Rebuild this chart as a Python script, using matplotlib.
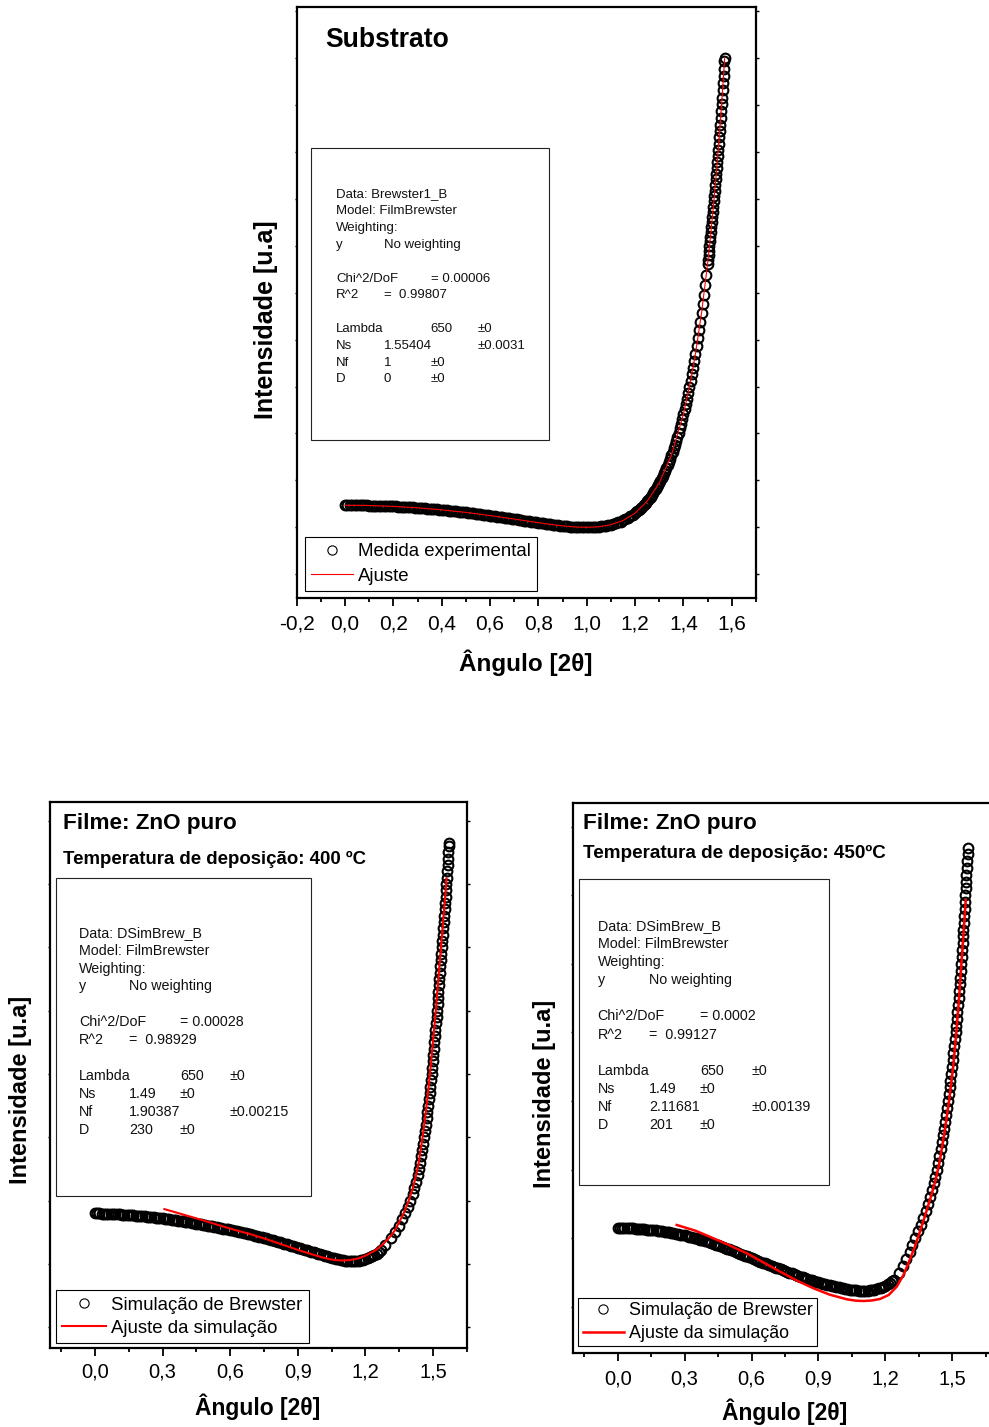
import matplotlib
matplotlib.use("Agg")
import matplotlib.pyplot as plt
from matplotlib.patches import Rectangle
from matplotlib.ticker import MultipleLocator, FuncFormatter, NullFormatter

plt.rcParams['font.family'] = ['Liberation Sans', 'DejaVu Sans']

W, H = 989, 1427

# ---------------------------------------------------------------- data
# incidence angle (rad) of the low-angle part, shared by the three curves
angle_flat = [
    0.00, 0.01, 0.02, 0.03, 0.04, 0.05, 0.06, 0.07, 0.08, 0.09,
    0.10, 0.11, 0.12, 0.13, 0.14, 0.15, 0.16, 0.17, 0.18, 0.19,
    0.20, 0.21, 0.22, 0.23, 0.24, 0.25, 0.26, 0.27, 0.28, 0.29,
    0.30, 0.31, 0.32, 0.33, 0.34, 0.35, 0.36, 0.37, 0.38, 0.39,
    0.40, 0.41, 0.42, 0.43, 0.44, 0.45, 0.46, 0.47, 0.48, 0.49,
    0.50, 0.51, 0.52, 0.53, 0.54, 0.55, 0.56, 0.57, 0.58, 0.59,
    0.60, 0.61, 0.62, 0.63, 0.64, 0.65, 0.66, 0.67, 0.68, 0.69,
    0.70, 0.71, 0.72, 0.73, 0.74, 0.75, 0.76, 0.77, 0.78, 0.79,
    0.80, 0.81, 0.82, 0.83, 0.84, 0.85, 0.86, 0.87, 0.88, 0.89,
    0.90, 0.91, 0.92, 0.93, 0.94, 0.95, 0.96, 0.97, 0.98, 0.99,
    1.00, 1.01, 1.02, 1.03, 1.04, 1.05, 1.06, 1.07, 1.08, 1.09,
    1.10, 1.11, 1.12, 1.13, 1.14, 1.15, 1.16, 1.17, 1.18, 1.19,
    1.20, 1.21, 1.22, 1.23, 1.24, 1.25, 1.26, 1.27]

# Substrato: measured intensity
sub_flat = [
    .0471, .0470, .0470, .0470, .0469, .0469, .0468, .0468, .0467, .0466,
    .0465, .0463, .0462, .0460, .0458, .0457, .0455, .0453, .0451, .0449,
    .0446, .0444, .0441, .0438, .0435, .0433, .0430, .0426, .0423, .0419,
    .0416, .0412, .0408, .0404, .0400, .0396, .0391, .0387, .0382, .0378,
    .0373, .0367, .0362, .0357, .0352, .0347, .0341, .0336, .0330, .0324,
    .0318, .0311, .0305, .0298, .0292, .0286, .0279, .0272, .0265, .0258,
    .0251, .0244, .0237, .0229, .0222, .0215, .0207, .0199, .0192, .0184,
    .0176, .0168, .0160, .0153, .0145, .0137, .0129, .0122, .0114, .0106,
    .0099, .0091, .0084, .0077, .0069, .0062, .0056, .0050, .0044, .0037,
    .0031, .0026, .0021, .0017, .0013, .0009, .0006, .0003, .0001, .0000,
    .0000, .0000, .0002, .0004, .0008, .0012, .0018, .0025, .0034, .0044,
    .0056, .0070, .0085, .0103, .0124, .0146, .0172, .0200, .0231, .0265,
    .0302]
sub_steep_angle = [
    1.205, 1.210, 1.215, 1.220, 1.225, 1.230, 1.235, 1.240, 1.245, 1.250,
    1.255, 1.260, 1.265, 1.270, 1.275, 1.280, 1.285, 1.290, 1.295, 1.300,
    1.305, 1.310, 1.315, 1.320, 1.325, 1.330, 1.335, 1.340, 1.345, 1.350,
    1.355, 1.360, 1.365, 1.370, 1.375, 1.380, 1.385, 1.390, 1.395, 1.400,
    1.405, 1.410, 1.415, 1.420, 1.425, 1.430, 1.435, 1.440, 1.445, 1.450,
    1.455, 1.460, 1.465, 1.470, 1.475, 1.480, 1.485, 1.490, 1.495, 1.500,
    1.502, 1.504, 1.506, 1.508, 1.510, 1.512, 1.514, 1.516, 1.518, 1.520,
    1.522, 1.524, 1.526, 1.528, 1.530, 1.532, 1.534, 1.536, 1.538, 1.540,
    1.542, 1.544, 1.546, 1.548, 1.550, 1.552, 1.554, 1.556, 1.558, 1.560,
    1.562, 1.564, 1.566, 1.568, 1.570, 1.5708]
sub_steep = [
    .0323, .0344, .0366, .0390, .0414, .0440, .0467, .0495, .0524, .0555,
    .0586, .0620, .0655, .0691, .0729, .0769, .0810, .0853, .0898, .0945,
    .0993, .1044, .1097, .1152, .1209, .1269, .1331, .1396, .1463, .1533,
    .1606, .1682, .1760, .1842, .1928, .2017, .2109, .2205, .2305, .2409,
    .2516, .2629, .2745, .2867, .2993, .3124, .3260, .3402, .3549, .3703,
    .3862, .4028, .4200, .4379, .4565, .4759, .4960, .5169, .5387, .5614,
    .5707, .5801, .5897, .5995, .6094, .6195, .6297, .6401, .6507, .6614,
    .6723, .6834, .6946, .7060, .7177, .7295, .7414, .7536, .7660, .7786,
    .7914, .8043, .8175, .8309, .8446, .8584, .8725, .8868, .9013, .9161,
    .9311, .9463, .9618, .9776, .9936, 1.0000]
# Substrato: fitted curve
sub_fit_angle = [0.0, 0.1, 0.2, 0.3, 0.4, 0.5, 0.6, 0.7, 0.8, 0.85, 0.9, 0.95,
                 1.0, 1.05, 1.1, 1.15, 1.2, 1.25, 1.3, 1.35, 1.4, 1.425, 1.45,
                 1.475, 1.5, 1.51, 1.52, 1.53, 1.54, 1.55, 1.56, 1.57, 1.5708]
sub_fit = [.0471, .0465, .0446, .0416, .0373, .0318, .0251, .0176, .0099, .0062,
           .0031, .0009, .0000, .0012, .0056, .0146, .0302, .0555, .0945, .1533,
           .2409, .2993, .3703, .4565, .5614, .6094, .6614, .7177, .7786, .8446,
           .9161, .9936, 1.0]

# ZnO 400 C: simulated intensity
zno400_flat = [
    .1796, .1796, .1795, .1794, .1793, .1791, .1790, .1788, .1786, .1784,
    .1782, .1780, .1778, .1776, .1773, .1771, .1768, .1765, .1763, .1760,
    .1757, .1753, .1750, .1746, .1742, .1738, .1734, .1730, .1726, .1721,
    .1717, .1712, .1707, .1702, .1697, .1692, .1687, .1681, .1676, .1670,
    .1665, .1659, .1653, .1648, .1642, .1636, .1630, .1624, .1617, .1611,
    .1605, .1598, .1591, .1585, .1578, .1571, .1564, .1557, .1549, .1542,
    .1535, .1527, .1520, .1512, .1505, .1497, .1489, .1481, .1472, .1464,
    .1456, .1447, .1438, .1429, .1420, .1411, .1401, .1391, .1382, .1372,
    .1362, .1352, .1341, .1331, .1320, .1310, .1299, .1288, .1278, .1267,
    .1256, .1245, .1234, .1224, .1213, .1202, .1191, .1180, .1170, .1159,
    .1148, .1138, .1127, .1117, .1106, .1096, .1087, .1078, .1069, .1062,
    .1055, .1050, .1046, .1043, .1042, .1043, .1046, .1051, .1058, .1066,
    .1075, .1088, .1103, .1120, .1139, .1160, .1185, .1213]
zno400_steep = [
    .13, .14, .15, .16, .17, .18, .19, .20, .21, .22,
    .23, .24, .25, .26, .27, .28, .29, .30, .31, .32,
    .33, .34, .35, .36, .37, .38, .39, .40, .41, .42,
    .43, .44, .45, .46, .47, .48, .49, .50, .51, .52,
    .53, .54, .55, .56, .57, .58, .59, .60, .61, .62,
    .63, .64, .65, .66, .67, .68, .69, .70, .71, .72,
    .73, .74, .75, .76, .765]
zno400_steep_angle = [
    1.2885, 1.3134, 1.3329, 1.3491, 1.3631, 1.3765, 1.3884, 1.3995, 1.4092, 1.4177,
    1.4257, 1.4319, 1.4376, 1.4434, 1.4479, 1.4523, 1.4567, 1.4607, 1.4647, 1.4683,
    1.4718, 1.4749, 1.4785, 1.4816, 1.4847, 1.4878, 1.4909, 1.4936, 1.4962, 1.4989,
    1.5011, 1.5038, 1.5060, 1.5087, 1.5109, 1.5135, 1.5158, 1.5180, 1.5202, 1.5224,
    1.5242, 1.5260, 1.5282, 1.5308, 1.5330, 1.5348, 1.5371, 1.5388, 1.5411, 1.5433,
    1.5450, 1.5473, 1.5495, 1.5517, 1.5535, 1.5557, 1.5575, 1.5593, 1.5610, 1.5628,
    1.5646, 1.5664, 1.5683, 1.5700, 1.5708]
zno400_fit_angle = [0.308, 0.38, 0.466, 0.55, 0.62, 0.688, 0.76, 0.836, 0.91, 0.984,
                    1.02, 1.058, 1.095, 1.132, 1.17, 1.206, 1.245, 1.28, 1.31, 1.3316,
                    1.3703, 1.3925, 1.4107, 1.4249, 1.4364, 1.4453, 1.4537, 1.4648,
                    1.4746, 1.4866, 1.4995, 1.5125, 1.5237, 1.5353, 1.5470, 1.5583, 1.5600]
zno400_fit = [.1864, .1790, .1701, .1610, .1535, .1470, .1390, .1298, .1208, .1127,
              .1090, .1062, .1052, .1060, .1086, .1137, .1215, .1315, .1430, .1532,
              .18, .20, .22, .24, .26, .28, .30, .33, .36, .40, .45, .50, .55, .60,
              .65, .70, .7088]

# ZnO 450 C: simulated intensity
zno450_flat = [
    .1152, .1152, .1151, .1150, .1149, .1148, .1146, .1144, .1142, .1140,
    .1137, .1134, .1131, .1128, .1125, .1122, .1119, .1115, .1111, .1108,
    .1104, .1099, .1093, .1087, .1081, .1075, .1069, .1062, .1056, .1049,
    .1042, .1034, .1025, .1017, .1008, .1000, .0991, .0982, .0973, .0964,
    .0955, .0944, .0932, .0921, .0909, .0898, .0886, .0874, .0862, .0850,
    .0838, .0825, .0813, .0800, .0788, .0775, .0762, .0749, .0736, .0723,
    .0710, .0698, .0685, .0673, .0660, .0648, .0636, .0624, .0611, .0599,
    .0587, .0575, .0563, .0550, .0538, .0526, .0514, .0502, .0490, .0478,
    .0466, .0455, .0444, .0432, .0421, .0410, .0399, .0389, .0378, .0368,
    .0357, .0348, .0339, .0331, .0322, .0314, .0306, .0299, .0291, .0284,
    .0277, .0271, .0265, .0259, .0253, .0248, .0244, .0241, .0238, .0237,
    .0236, .0236, .0238, .0241, .0247, .0254, .0262, .0272, .0283, .0296,
    .0310, .0328, .0348, .0372, .0400]
zno450_steep = [
    .05, .06, .07, .08, .09, .10, .11, .12, .13, .14,
    .15, .16, .17, .18, .19, .20, .21, .22, .23, .24,
    .25, .26, .27, .28, .29, .30, .31, .32, .33, .34,
    .35, .36, .37, .38, .39, .40, .41, .42, .43, .44,
    .45, .46, .47, .48, .49, .50, .51, .52, .53, .54,
    .55, .56, .57, .58, .59, .60, .61, .62, .63, .64,
    .65, .66, .669]
zno450_steep_angle = [
    1.2619, 1.2794, 1.2944, 1.3082, 1.3214, 1.3342, 1.3468, 1.3589, 1.3703, 1.3809,
    1.3907, 1.3998, 1.4082, 1.4160, 1.4232, 1.4299, 1.4360, 1.4418, 1.4473, 1.4525,
    1.4575, 1.4623, 1.4669, 1.4713, 1.4756, 1.4798, 1.4839, 1.4878, 1.4915, 1.4951,
    1.4986, 1.5020, 1.5053, 1.5085, 1.5116, 1.5146, 1.5175, 1.5203, 1.5230, 1.5256,
    1.5281, 1.5306, 1.5330, 1.5353, 1.5376, 1.5398, 1.5419, 1.5439, 1.5459, 1.5478,
    1.5497, 1.5515, 1.5533, 1.5550, 1.5567, 1.5584, 1.5601, 1.5618, 1.5635, 1.5652,
    1.5669, 1.5686, 1.5708]
zno450_fit_angle = [0.2646, 0.35, 0.429, 0.50, 0.578, 0.65, 0.728, 0.80, 0.877, 0.95,
                    1.027, 1.065, 1.101, 1.14, 1.176, 1.215, 1.251, 1.28, 1.303, 1.33,
                    1.352, 1.38, 1.404, 1.425, 1.442, 1.466, 1.488, 1.505, 1.519, 1.531,
                    1.541, 1.551, 1.5605]
zno450_fit = [.1195, .1110, .1001, .0900, .0783, .0655, .0515, .0390, .0273, .0180,
              .0112, .0093, .0087, .0095, .0117, .0175, .0296, .0460, .0637, .0860,
              .1070, .1350, .1608, .1850, .2095, .2560, .3066, .3530, .4038, .4530,
              .5010, .5480, .5933]

# fit reports printed inside each panel: (column, text) per row
report_sub = [
    [(0, "Data: Brewster1_B")], [(0, "Model: FilmBrewster")], [(0, "Weighting:")],
    [(0, "y"), (1, "No weighting")], [],
    [(0, "Chi^2/DoF"), (2, "= 0.00006")], [(0, "R^2"), (1, "=  0.99807")], [],
    [(0, "Lambda"), (2, "650"), (3, "±0")], [(0, "Ns"), (1, "1.55404"), (3, "±0.0031")],
    [(0, "Nf"), (1, "1"), (2, "±0")], [(0, "D"), (1, "0"), (2, "±0")]]
report_400 = [
    [(0, "Data: DSimBrew_B")], [(0, "Model: FilmBrewster")], [(0, "Weighting:")],
    [(0, "y"), (1, "No weighting")], [],
    [(0, "Chi^2/DoF"), (2, "= 0.00028")], [(0, "R^2"), (1, "=  0.98929")], [],
    [(0, "Lambda"), (2, "650"), (3, "±0")], [(0, "Ns"), (1, "1.49"), (2, "±0")],
    [(0, "Nf"), (1, "1.90387"), (3, "±0.00215")], [(0, "D"), (1, "230"), (2, "±0")]]
report_450 = [
    [(0, "Data: DSimBrew_B")], [(0, "Model: FilmBrewster")], [(0, "Weighting:")],
    [(0, "y"), (1, "No weighting")], [],
    [(0, "Chi^2/DoF"), (2, "= 0.0002")], [(0, "R^2"), (1, "=  0.99127")], [],
    [(0, "Lambda"), (2, "650"), (3, "±0")], [(0, "Ns"), (1, "1.49"), (2, "±0")],
    [(0, "Nf"), (1, "2.11681"), (3, "±0.00139")], [(0, "D"), (1, "201"), (2, "±0")]]

# ---------------------------------------------------------------- helpers
fig = plt.figure(figsize=(W / 100, H / 100), dpi=100)


def fx(x):
    return x / W


def fy(y):
    return 1 - y / H


def rect(left, top, right, bottom):
    return [left / W, 1 - bottom / H, (right - left) / W, (bottom - top) / H]


def comma(v, pos):
    v = round(v, 2)
    if abs(v) < 1e-9:
        v = 0.0
    return f"{v:.1f}".replace('.', ',')


def style_axes(ax, xlim, ylim, major, minor, tick_fs, pad):
    ax.set_xlim(*xlim)
    ax.set_ylim(*ylim)
    ax.xaxis.set_major_locator(MultipleLocator(major))
    ax.xaxis.set_minor_locator(MultipleLocator(minor))
    ax.xaxis.set_major_formatter(FuncFormatter(comma))
    ax.yaxis.set_major_locator(MultipleLocator(0.1))
    ax.yaxis.set_major_formatter(NullFormatter())
    ax.tick_params(axis='x', which='major', direction='out', length=5.5,
                   width=1.3, labelsize=tick_fs, pad=pad, top=False)
    ax.tick_params(axis='x', which='minor', direction='out', length=3.0,
                   width=1.3, top=False)
    ax.tick_params(axis='y', which='major', direction='out', length=1.8,
                   width=1.0, left=True, right=True)
    for s in ax.spines.values():
        s.set_linewidth(1.6)


def place_labels(ax, xlab, xc, ylab, yc, xfs, yfs):
    ax.set_xlabel(xlab, fontsize=xfs, fontweight='bold')
    ax.set_ylabel(ylab, fontsize=yfs, fontweight='bold')
    ax.xaxis.label.set_va('center')
    ax.yaxis.label.set_va('center')
    ax.xaxis.set_label_coords(fx(xc[0]), fy(xc[1]), transform=fig.transFigure)
    ax.yaxis.set_label_coords(fx(yc[0]), fy(yc[1]), transform=fig.transFigure)


def report_box(box, cols, y0, dy, rows, fs):
    l, t, r, b = box
    fig.add_artist(Rectangle((fx(l), fy(b)), (r - l) / W, (b - t) / H,
                             transform=fig.transFigure, facecolor='white',
                             edgecolor='#222222', linewidth=0.8))
    cap = 0.358 * fs * 100 / 72
    for i, row in enumerate(rows):
        for c, s in row:
            fig.text(fx(cols[c]), fy(y0 + i * dy + cap), s, fontsize=fs,
                     ha='left', va='baseline', color='#111111')


def scatter(ax, ang, val, label):
    return ax.plot(ang, val, linestyle='none', marker='o', markersize=7.0,
                   markerfacecolor='none', markeredgecolor='black',
                   markeredgewidth=1.5, label=label, zorder=2)[0]


def fit(ax, ang, val, label, lw):
    return ax.plot(ang, val, color='#ff0000', linewidth=lw, label=label,
                   zorder=3)[0]


def legend(ax, handles, anchor, fs, bpad, lspace, hlen, tpad):
    leg = ax.legend(handles=handles, loc='upper left',
                    bbox_to_anchor=(fx(anchor[0]), fy(anchor[1])),
                    bbox_transform=fig.transFigure, borderaxespad=0, fontsize=fs,
                    frameon=True, fancybox=False, framealpha=1, edgecolor='black',
                    borderpad=bpad, labelspacing=lspace, handlelength=hlen,
                    handletextpad=tpad, numpoints=1, markerscale=0.95)
    leg.get_frame().set_linewidth(0.8)
    for h in leg.legend_handles:
        if h.get_marker() == 'o':
            h.set_markeredgewidth(0.8)
    return leg


# ---------------------------------------------------------------- Substrato
ax1 = fig.add_axes(rect(296.7, 7, 755.9, 597.7))
style_axes(ax1, (-0.2, 1.7), (-0.150, 1.109), 0.2, 0.1, 15, 6.5)
h1 = scatter(ax1, angle_flat[:len(sub_flat)] + sub_steep_angle, sub_flat + sub_steep,
             "Medida experimental")
f1 = fit(ax1, sub_fit_angle, sub_fit, "Ajuste", 0.8)
place_labels(ax1, "Ângulo [2θ]", (525.5, 663), "Intensidade [u.a]", (266, 320), 17.5, 18)
legend(ax1, [h1, f1], (305, 537.3), 13.4, 0.33, 0.4, 2.25, 0.27)
fig.text(fx(325), fy(46.8), "Substrato", fontsize=19.1, fontweight='bold', va='baseline')
report_box((311, 147.5, 549.3, 439.6), [336, 384, 430.7, 477.7], 192.8, 16.8,
           report_sub, 9.5)

# ---------------------------------------------------------------- ZnO 400 C
ax2 = fig.add_axes(rect(49.9, 801.7, 466.8, 1348))
style_axes(ax2, (-0.2, 1.65), (-0.033, 0.830), 0.3, 0.15, 14.5, 5.3)
h2 = scatter(ax2, angle_flat[:len(zno400_flat)] + zno400_steep_angle,
             zno400_flat + zno400_steep, "Simulação de Brewster")
f2 = fit(ax2, zno400_fit_angle, zno400_fit, "Ajuste da simulação", 1.5)
place_labels(ax2, "Ângulo [2θ]", (257.5, 1407), "Intensidade [u.a]", (21, 1090), 16.5, 17)
legend(ax2, [h2, f2], (55.7, 1290), 13.4, 0.35, 0.33, 2.36, 0.27)
fig.text(fx(63), fy(829), "Filme: ZnO puro", fontsize=16.2, fontweight='bold', va='baseline')
fig.text(fx(63), fy(864.5), "Temperatura de deposição: 400 ºC", fontsize=13.4,
         fontweight='bold', va='baseline')
report_box((55.7, 878.3, 311, 1195.9), [79, 129.3, 180, 230], 931.5, 17.95,
           report_400, 10.3)

# ---------------------------------------------------------------- ZnO 450 C
ax3 = fig.add_axes(rect(573.1, 803.3, 996.9, 1353.3))
style_axes(ax3, (-0.2, 1.7), (-0.0675, 0.734), 0.3, 0.15, 14.5, 6.3)
h3 = scatter(ax3, angle_flat[:len(zno450_flat)] + zno450_steep_angle,
             zno450_flat + zno450_steep, "Simulação de Brewster")
f3 = fit(ax3, zno450_fit_angle, zno450_fit, "Ajuste da simulação", 1.8)
place_labels(ax3, "Ângulo [2θ]", (784.5, 1412), "Intensidade [u.a]", (544.5, 1094), 16.5, 17)
legend(ax3, [h3, f3], (578.3, 1297.6), 12.9, 0.25, 0.32, 2.3, 0.28)
fig.text(fx(583), fy(828.5), "Filme: ZnO puro", fontsize=16.2, fontweight='bold', va='baseline')
fig.text(fx(583), fy(858.4), "Temperatura de deposição: 450ºC", fontsize=13.6,
         fontweight='bold', va='baseline')
report_box((579.3, 878.9, 829, 1184.6), [597.7, 649.3, 700, 751.7], 924.8, 18.1,
           report_450, 10.3)

fig.savefig("out.png", dpi=100)
